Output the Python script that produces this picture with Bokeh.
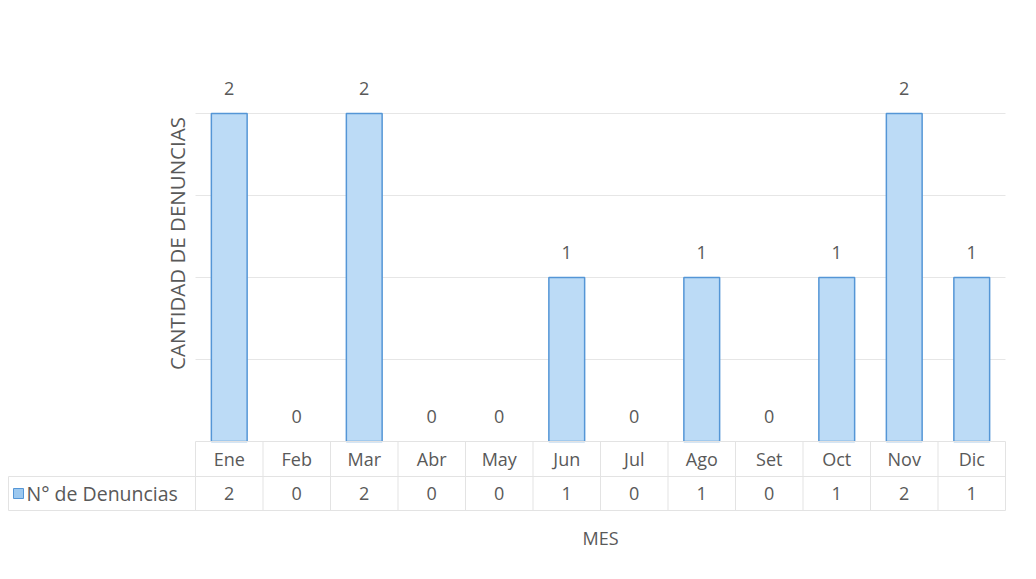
from bokeh.plotting import figure
from bokeh.models import ColumnDataSource, Label, CDSView, BooleanFilter
from bokeh.embed import file_html
from bokeh.resources import INLINE
from bokeh.core.properties import value

# ---- data ----
months = ["Ene", "Feb", "Mar", "Abr", "May", "Jun", "Jul", "Ago", "Set", "Oct", "Nov", "Dic"]
counts = [2, 0, 2, 0, 0, 1, 0, 1, 0, 1, 2, 1]
series_name = "N° de Denuncias"
y_title = "CANTIDAD DE DENUNCIAS"
x_title = "MES"
grid_ticks = [0.5, 1, 1.5, 2]

FNAME = "Open Sans"
FONT = value(FNAME)
FS = "18px"
TXT = "#595959"
GRID = "#e6e6e6"

n = len(months)
xs = [i + 0.5 for i in range(n)]

W, H = 1030, 575
col_px = 67.5
unit_px = 164.0
x0_px = 195          # page x where month columns start
base_px = 441        # page y of the zero line
left_units = x0_px / col_px
right_units = (W - x0_px - n * col_px) / col_px
y_top = base_px / unit_px
y_bot = -(H - base_px) / unit_px

p = figure(width=W, height=H, output_backend="svg", toolbar_location=None,
           x_range=(-left_units, n + right_units), y_range=(y_bot, y_top),
           min_border=0, outline_line_color=None, background_fill_color="white",
           border_fill_color="white")
p.axis.visible = False
p.grid.visible = False

# gridlines
p.segment(x0=[0] * len(grid_ticks), x1=[n] * len(grid_ticks), y0=grid_ticks, y1=grid_ticks,
          line_color=GRID, line_width=1)

src = ColumnDataSource(dict(x=xs, top=counts, month=months, lab=[str(c) for c in counts]))
view = CDSView(filter=BooleanFilter([c > 0 for c in counts]))

p.vbar(x="x", top="top", bottom=0, width=0.53, source=src, view=view,
       fill_color="#bcdbf6", line_color="#5596d6", line_width=1.5)

p.text(x="x", y="top", text="lab", source=src, y_offset=-25, text_align="center",
       text_baseline="middle", text_font=FONT, text_font_size=FS, text_color=TXT)

# data table below the chart
row1 = -35 / unit_px
row2 = -69 / unit_px
lc = "#e3e3e3"
lx = -left_units + 8 / col_px
vx = list(range(n + 1))
p.segment(x0=vx, x1=vx, y0=[0] * (n + 1), y1=[row2] * (n + 1), line_color=lc, line_width=1)
p.segment(x0=[lx, lx, lx], x1=[n, n, lx], y0=[row1, row2, row1], y1=[row1, row2, row2],
          line_color=lc, line_width=1)
p.segment(x0=[0], x1=[n], y0=[0], y1=[0], line_color=lc, line_width=1)

p.text(x="x", y=row1 / 2, text="month", source=src, text_align="center",
       text_baseline="middle", text_font=FONT, text_font_size=FS, text_color=TXT)
p.text(x="x", y=(row1 + row2) / 2, text="lab", source=src, text_align="center",
       text_baseline="middle", text_font=FONT, text_font_size=FS, text_color=TXT)

# legend key
key_x = -left_units + 18 / col_px
p.rect(x=[key_x], y=[(row1 + row2) / 2], width=10, height=10, width_units="screen",
       height_units="screen", fill_color="#9cc8ef", line_color="#5596d6", line_width=1)
p.text(x=[key_x], y=[(row1 + row2) / 2], text=[series_name], x_offset=8,
       text_align="left", text_baseline="middle", text_font=FONT,
       text_font_size="19.5px", text_color=TXT)

# axis titles
p.add_layout(Label(x=n / 2, y=-(537 - base_px) / unit_px, text=x_title, text_align="center",
                   text_baseline="middle", text_font=FNAME, text_font_size=FS,
                   text_color=TXT))
p.add_layout(Label(x=-(x0_px - 176) / col_px, y=(base_px - 243) / unit_px, text=y_title,
                   angle=90, angle_units="deg", text_align="center", text_baseline="middle",
                   text_font=FNAME, text_font_size="20.5px", text_color=TXT))

open("out.html", "w").write(file_html(p, INLINE))
